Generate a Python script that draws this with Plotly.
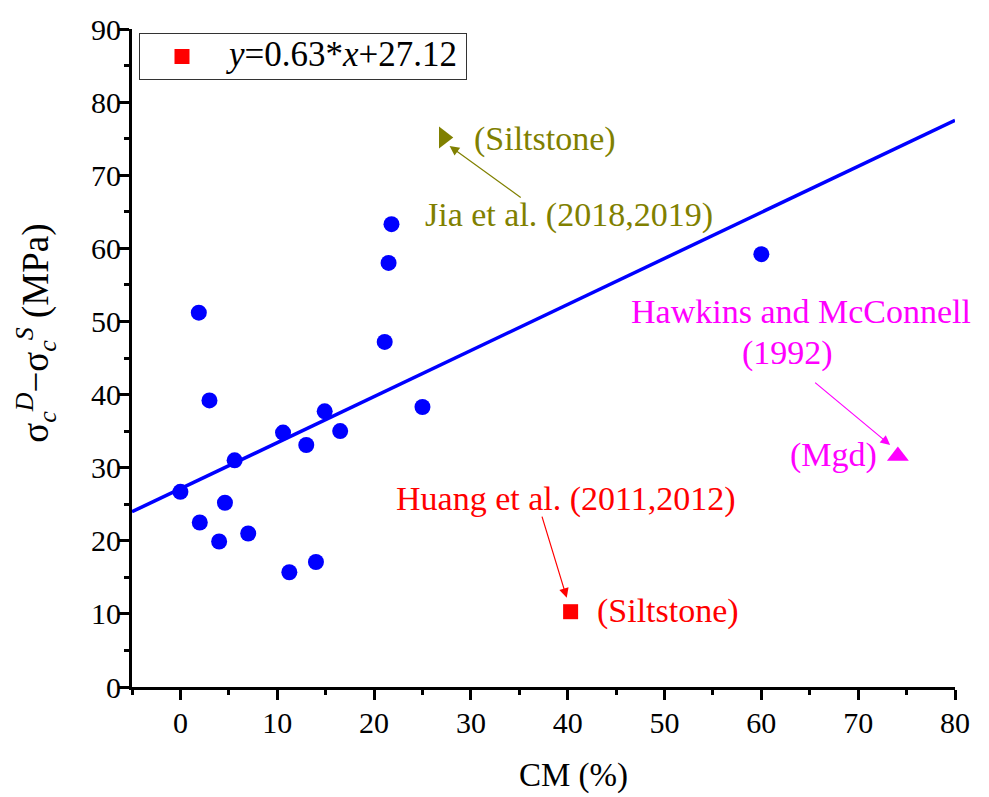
import plotly.graph_objects as go

# CM content (%) and strength difference (MPa) of the tested samples
cm_pct = [0.0, 1.9, 3.0, 2.0, 4.0, 4.6, 5.6, 7.0, 10.6, 11.25, 13.0, 14.0,
          14.9, 16.5, 21.1, 21.5, 21.8, 25.0, 60.0]
d_sigma = [26.7, 51.2, 39.2, 22.5, 19.9, 25.2, 31.0, 21.0, 34.8, 15.7, 33.1, 17.1,
           37.7, 35.0, 47.2, 58.0, 63.3, 38.3, 59.2]

# Literature values
jia_x, jia_y = [27.2], [75.15]          # Jia et al. (2018,2019), siltstone
huang_x, huang_y = [40.3], [10.3]       # Huang et al. (2011,2012), siltstone
hawk_x, hawk_y = [74.1], [31.6]         # Hawkins and McConnell (1992), Mgd

# Linear fit
slope, intercept = 0.63, 27.12
fit_x = [-5, 80]
fit_y = [slope * v + intercept for v in fit_x]

FONT = "Times New Roman, Liberation Serif, Times, serif"
OLIVE = "#808000"
MAGENTA = "#FF00FF"
RED = "#FF0000"
BLUE = "#0000FF"

fig = go.Figure()

fig.add_trace(go.Scatter(x=fit_x, y=fit_y, mode="lines",
                         line=dict(color=BLUE, width=3.5), showlegend=False))
fig.add_trace(go.Scatter(x=cm_pct, y=d_sigma, mode="markers",
                         marker=dict(color=BLUE, size=16, symbol="circle"),
                         showlegend=False))
fig.add_trace(go.Scatter(
    x=huang_x, y=huang_y, mode="markers",
    marker=dict(color=RED, size=15, symbol="square"),
    name=(f"<span style='font-size:35px'><i>y</i>={slope:.2f}*<i>x</i>"
          f"+{intercept:.2f}</span>"),
    showlegend=True))
fig.add_trace(go.Scatter(x=jia_x, y=jia_y, mode="markers",
                         marker=dict(color=OLIVE, size=19, symbol="triangle-right"),
                         showlegend=False))
fig.add_trace(go.Scatter(x=hawk_x, y=hawk_y, mode="markers",
                         marker=dict(color=MAGENTA, size=19, symbol="triangle-up"),
                         showlegend=False))

ann_font = 34


def label(x, y, text, color, xanchor="center"):
    return dict(x=x, y=y, xref="x", yref="y", text=text, showarrow=False,
                xanchor=xanchor, yanchor="middle",
                font=dict(family=FONT, size=ann_font, color=color))


def arrow(x0, y0, x1, y1, color):
    return dict(x=x1, y=y1, ax=x0, ay=y0, xref="x", yref="y", axref="x", ayref="y",
                text="", showarrow=True, arrowhead=2, arrowsize=1.6, arrowwidth=1.2,
                arrowcolor=color, standoff=0, startstandoff=0)


annotations = [
    label(30.1, 75.0, "(Siltstone)", OLIVE, "left"),
    label(25.1, 64.6, "Jia et al. (2018,2019)", OLIVE, "left"),
    arrow(35.3, 66.8, 27.8, 74.0, OLIVE),
    label(64.1, 51.3, "Hawkins and McConnell", MAGENTA),
    label(62.7, 45.7, "(1992)", MAGENTA),
    arrow(65.4, 41.8, 73.3, 33.1, MAGENTA),
    label(67.5, 31.7, "(Mgd)", MAGENTA),
    label(39.8, 25.7, "Huang et al. (2011,2012)", RED),
    arrow(37.3, 23.5, 39.9, 12.2, RED),
    label(50.4, 10.4, "(Siltstone)", RED),
    # axis titles
    dict(x=0.536, y=-0.135, xref="paper", yref="paper", text="CM (%)",
         showarrow=False, xanchor="center", yanchor="middle",
         font=dict(family=FONT, size=33, color="black")),
    dict(x=-0.117, y=0.538, xref="paper", yref="paper", textangle=-90,
         text="σ<sub><i>c</i></sub><sup><i>D</i></sup>−σ<sub><i>c</i></sub><sup><i>S</i></sup> (MPa)",
         showarrow=False, xanchor="center", yanchor="middle",
         font=dict(family=FONT, size=37, color="black")),
]

axis_common = dict(
    showline=True, linecolor="black", linewidth=3, mirror=False,
    ticks="outside", ticklen=10, tickwidth=3, tickcolor="black",
    showgrid=False, zeroline=False,
    tickfont=dict(family=FONT, size=30, color="black"),
)

fig.update_layout(
    width=989, height=797,
    margin=dict(l=132, r=34, t=22, b=110),
    paper_bgcolor="white", plot_bgcolor="white",
    font=dict(family=FONT, color="black"),
    xaxis=dict(range=[-5, 80], tick0=0, dtick=10, ticklabelstandoff=-3,
               minor=dict(dtick=5, tick0=0, ticks="outside", ticklen=5,
                          tickwidth=3, tickcolor="black"),
               **axis_common),
    yaxis=dict(range=[0, 90], tick0=0, dtick=10, ticklabelstandoff=-8,
               minor=dict(dtick=5, tick0=0, ticks="outside", ticklen=5,
                          tickwidth=3, tickcolor="black"),
               **axis_common),
    legend=dict(x=0.0085, y=0.9935, xanchor="left", yanchor="top",
                bgcolor="white", bordercolor="#333333", borderwidth=1,
                font=dict(family=FONT, size=24, color="black"),
                itemwidth=84, indentation=-5),
    annotations=annotations,
    showlegend=True,
)

fig.write_html("out.html")
